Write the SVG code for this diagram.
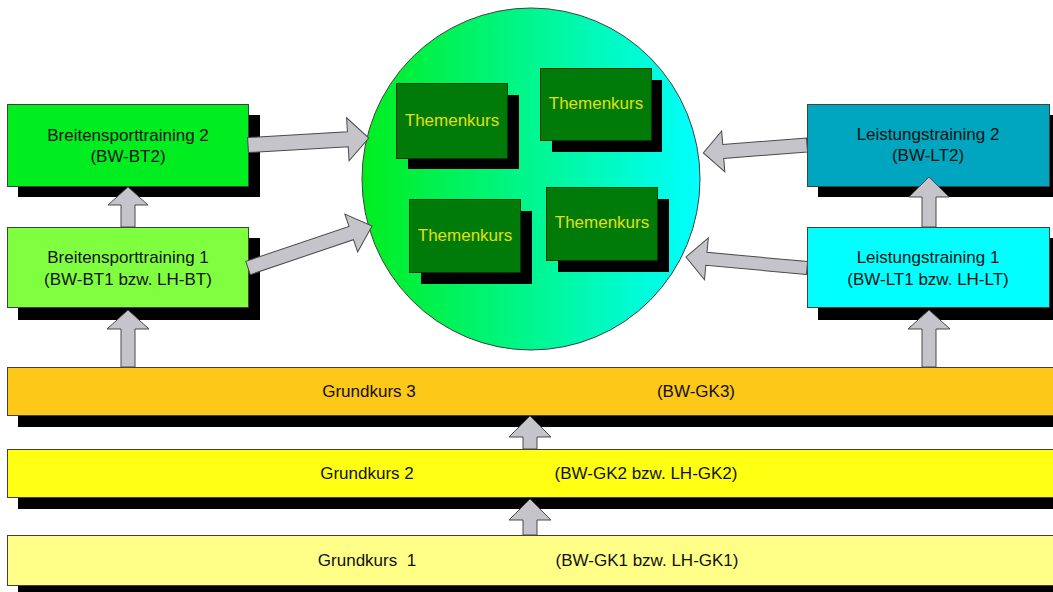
<svg xmlns="http://www.w3.org/2000/svg" width="1053" height="592" viewBox="0 0 1053 592">
<defs>
<linearGradient id="cg" x1="0" y1="0" x2="1" y2="0">
<stop offset="0" stop-color="#00ee1e"/>
<stop offset="1" stop-color="#00ffff"/>
</linearGradient>
</defs>
<style>
text{font-family:"Liberation Sans",Arial,sans-serif;font-size:17px;fill:#111;}
.m{text-anchor:middle;}
.sh{fill:#000;}
.bx{stroke:#404040;stroke-width:1;}
.tk{fill:#007a08;stroke:#003a00;stroke-width:1;}
.tkt{fill:#e0e010;text-anchor:middle;}
.ar{fill:#c4c4ca;stroke:#4a4a4a;stroke-width:1;stroke-linejoin:miter;}
</style>
<rect width="1053" height="592" fill="#fff"/>

<g id="circle">
<ellipse cx="531" cy="179" rx="169" ry="171" fill="url(#cg)" stroke="#404040" stroke-width="1"/>
</g>
<g id="tk1">
<rect class="sh" x="408" y="95" width="111" height="74"/>
<rect class="tk" x="396.5" y="83.5" width="111" height="75"/>
<text class="tkt" x="452" y="126">Themenkurs</text>
</g>
<g id="tk2">
<rect class="sh" x="552" y="80" width="110" height="72"/>
<rect class="tk" x="540.5" y="68.5" width="111" height="72"/>
<text class="tkt" x="596" y="109">Themenkurs</text>
</g>
<g id="tk3">
<rect class="sh" x="421" y="211" width="111" height="73"/>
<rect class="tk" x="409.5" y="199.5" width="111" height="73"/>
<text class="tkt" x="465" y="241">Themenkurs</text>
</g>
<g id="tk4">
<rect class="sh" x="558" y="199" width="111" height="73"/>
<rect class="tk" x="546.5" y="187.5" width="111" height="73"/>
<text class="tkt" x="602" y="228">Themenkurs</text>
</g>

<g id="bt2">
<rect class="sh" x="18" y="115" width="242" height="82"/>
<rect class="bx" x="7.5" y="104.5" width="241" height="82" fill="#00ee20"/>
<text class="m" x="128" y="141">Breitensporttraining 2</text>
<text class="m" x="128" y="162">(BW-BT2)</text>
</g>
<g id="bt1">
<rect class="sh" x="18" y="238" width="242" height="82"/>
<rect class="bx" x="7.5" y="227.5" width="241" height="80" fill="#80ff40"/>
<text class="m" x="128" y="263">Breitensporttraining 1</text>
<text class="m" x="128" y="285">(BW-BT1 bzw. LH-BT)</text>
</g>
<g id="lt2">
<rect class="sh" x="818" y="115" width="240" height="82"/>
<rect class="bx" x="807.5" y="104.5" width="242" height="82" fill="#00a6bf"/>
<text class="m" x="928" y="140">Leistungstraining 2</text>
<text class="m" x="928" y="161">(BW-LT2)</text>
</g>
<g id="lt1">
<rect class="sh" x="818" y="238" width="240" height="82"/>
<rect class="bx" x="807.5" y="227.5" width="242" height="80" fill="#00ffff"/>
<text class="m" x="928" y="263">Leistungstraining 1</text>
<text class="m" x="928" y="285">(BW-LT1 bzw. LH-LT)</text>
</g>

<g id="gk3">
<rect class="sh" x="18" y="378" width="1040" height="49"/>
<rect class="bx" x="7.5" y="367.5" width="1050" height="48" fill="#fec818"/>
<text class="m" x="369" y="397">Grundkurs 3</text>
<text class="m" x="696" y="397">(BW-GK3)</text>
</g>
<g id="gk2">
<rect class="sh" x="18" y="460" width="1040" height="49"/>
<rect class="bx" x="7.5" y="449.5" width="1050" height="48" fill="#ffff14"/>
<text class="m" x="367" y="479">Grundkurs 2</text>
<text class="m" x="646" y="479">(BW-GK2 bzw. LH-GK2)</text>
</g>
<g id="gk1">
<rect class="sh" x="18" y="546" width="1040" height="50"/>
<rect class="bx" x="7.5" y="535.5" width="1050" height="50" fill="#ffff88"/>
<text class="m" x="367" y="566" xml:space="preserve">Grundkurs  1</text>
<text class="m" x="647" y="566">(BW-GK1 bzw. LH-GK1)</text>
</g>

<g id="connectors">
<polygon class="ar" points="121,227 121,205 108,205 128,187 148,205 135,205 135,227"/>
<polygon class="ar" points="922,227 922,197 909,197 929,177 949,197 936,197 936,227"/>
<polygon class="ar" points="121,367 121,329 107,329 128,310 149,329 135,329 135,367"/>
<polygon class="ar" points="922,367 922,329 908,329 929,310 950,329 936,329 936,367"/>
<polygon class="ar" points="523,449 523,437 509,437 530,416 551,437 537,437 537,449"/>
<polygon class="ar" points="523,535 523,520 509,520 530,499 551,520 537,520 537,535"/>
<path class="ar" transform="translate(248,145) rotate(-3.3)" d="M0,-7.5 H100 V-21.5 L121,0 L100,21.5 V7.5 H0 Z"/>
<path class="ar" transform="translate(248,268) rotate(-18.7)" d="M0,-7 H109 V-20 L131,0 L109,20 V7 H0 Z"/>
<path class="ar" transform="translate(807,145) rotate(175.6)" d="M0,-7 H84 V-20.5 L104,0 L84,20.5 V7 H0 Z"/>
<path class="ar" transform="translate(807,268) rotate(185.2)" d="M0,-6.5 H101 V-21 L121.5,0 L101,21 V6.5 H0 Z"/>
</g>
</svg>
